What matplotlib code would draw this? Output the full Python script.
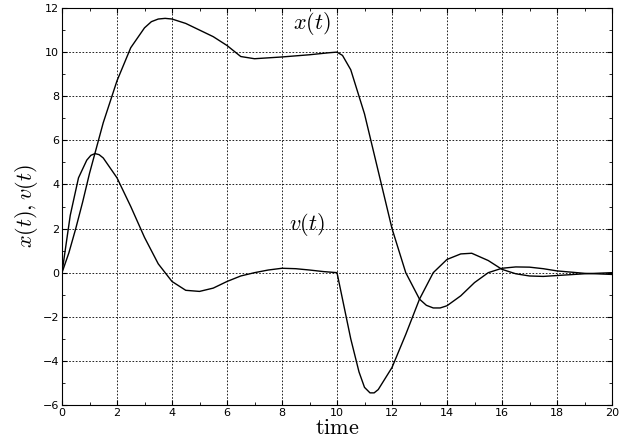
import matplotlib
matplotlib.use("Agg")
import matplotlib.pyplot as plt
from matplotlib.ticker import MultipleLocator

plt.rcParams["mathtext.fontset"] = "cm"

t_x = [0, 0.25, 0.5, 0.75, 1, 1.5, 2, 2.5, 3, 3.25, 3.5, 3.75, 4, 4.5, 5, 5.5, 6, 6.3, 6.5, 7, 8, 9, 9.7, 10, 10.2, 10.5, 11, 11.5, 12, 12.5, 13, 13.25, 13.5, 13.75, 14, 14.5, 15, 15.5, 16, 16.5, 17, 17.5, 18, 19, 20]
x_val = [0, 0.9, 2.0, 3.2, 4.5, 6.8, 8.7, 10.2, 11.1, 11.38, 11.5, 11.53, 11.5, 11.3, 11.0, 10.7, 10.3, 10.0, 9.8, 9.7, 9.78, 9.88, 9.97, 10.0, 9.85, 9.2, 7.2, 4.6, 2.0, 0.0, -1.2, -1.48, -1.6, -1.6, -1.5, -1.05, -0.45, 0.0, 0.2, 0.26, 0.25, 0.18, 0.08, -0.03, -0.08]

t_v = [0, 0.3, 0.6, 0.9, 1.05, 1.2, 1.35, 1.5, 2, 2.5, 3, 3.5, 4, 4.5, 5, 5.5, 6, 6.5, 7, 7.5, 8, 8.5, 9, 9.5, 10, 10.2, 10.5, 10.8, 11.0, 11.2, 11.35, 11.5, 12, 12.5, 13, 13.5, 14, 14.5, 14.9, 15.5, 16, 16.5, 17, 17.5, 18, 19, 20]
v_val = [0, 2.6, 4.3, 5.1, 5.32, 5.4, 5.35, 5.2, 4.3, 3.0, 1.6, 0.4, -0.4, -0.8, -0.85, -0.7, -0.4, -0.15, 0.0, 0.12, 0.2, 0.18, 0.12, 0.05, 0.0, -1.2, -3.0, -4.5, -5.2, -5.45, -5.45, -5.3, -4.3, -2.8, -1.2, 0.0, 0.6, 0.85, 0.88, 0.55, 0.15, -0.05, -0.15, -0.17, -0.13, -0.05, 0.0]

fig = plt.figure(figsize=(6.34, 4.46), dpi=100)
ax = fig.add_axes([62/634, 41/446, 550/634, 397/446])
ax.plot(t_x, x_val, color="black", lw=1)
ax.plot(t_v, v_val, color="black", lw=1)
ax.set_xlim(0, 20)
ax.set_ylim(-6, 12)
ax.xaxis.set_major_locator(MultipleLocator(2))
ax.yaxis.set_major_locator(MultipleLocator(2))
ax.xaxis.set_minor_locator(MultipleLocator(1))
ax.yaxis.set_minor_locator(MultipleLocator(1))
ax.tick_params(which="both", direction="in", top=True, right=True, labelsize=8, pad=2)
ax.grid(True, which="major", color="black", ls=(0, (2, 2)), lw=0.6)
ax.text(9.1, 11.3, r"$x(t)$", fontsize=16, ha="center", va="center")
ax.text(8.9, 2.2, r"$v(t)$", fontsize=16, ha="center", va="center")
ax.set_xlabel(r"$\mathrm{time}$", fontsize=16, labelpad=0)
ax.set_ylabel(r"$x(t),v(t)$", fontsize=16, labelpad=2)
fig.savefig("out.png", dpi=100)
